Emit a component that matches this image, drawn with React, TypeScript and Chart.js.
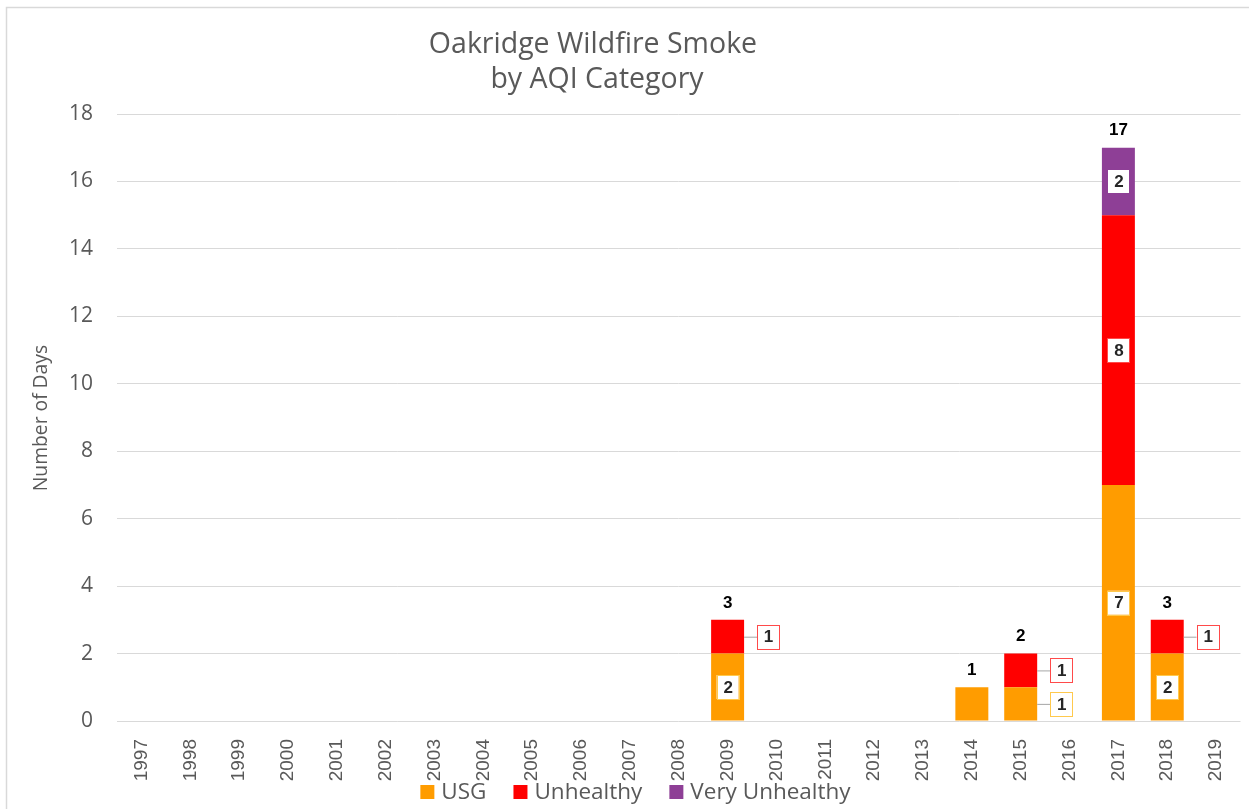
import React, { useEffect, useRef } from "react";
import { Chart, registerables } from "chart.js";
Chart.register(...registerables);

const years = ["1997","1998","1999","2000","2001","2002","2003","2004","2005","2006","2007","2008","2009","2010","2011","2012","2013","2014","2015","2016","2017","2018","2019"];
const usg =           [0,0,0,0,0,0,0,0,0,0,0,0,2,0,0,0,0,1,1,0,7,2,0];
const unhealthy =     [0,0,0,0,0,0,0,0,0,0,0,0,1,0,0,0,0,0,1,0,8,1,0];
const veryUnhealthy = [0,0,0,0,0,0,0,0,0,0,0,0,0,0,0,0,0,0,0,0,2,0,0];
const seriesNames = ["USG", "Unhealthy", "Very Unhealthy"];
const seriesColors = ["#FF9C00", "#FF0000", "#8E3F96"];
const labelBorders = ["#FFC94D", "#FF4A4A", "#8E3F96"];
const yMin = 0;
const yMax = 18;
const yStep = 2;
const chartTitle = ["Oakridge Wildfire Smoke", "by AQI Category"];
const yAxisTitle = "Number of Days";

const W = 1249;
const H = 809;
const GRAY = "#595959";
const SANS = "'Open Sans', 'Noto Sans', sans-serif";
const ARIAL = "'Liberation Sans', Arial, sans-serif";

const overlay = {
  id: "overlay",
  afterDraw(chart: any) {
    const ctx = chart.ctx as CanvasRenderingContext2D;
    ctx.save();
    // outer frame
    ctx.strokeStyle = "#d9d9d9";
    ctx.lineWidth = 1.5;
    ctx.beginPath();
    ctx.moveTo(6.5, H);
    ctx.lineTo(6.5, 7.5);
    ctx.lineTo(W, 7.5);
    ctx.stroke();

    // title
    ctx.fillStyle = GRAY;
    ctx.textAlign = "center";
    ctx.textBaseline = "middle";
    ctx.font = `28.5px ${SANS}`;
    ctx.fillText(chartTitle[0], 593, 45);
    ctx.fillText(chartTitle[1], 597, 80);

    // y axis title
    ctx.save();
    ctx.translate(42, 418);
    ctx.rotate(-Math.PI / 2);
    ctx.font = `19.3px ${SANS}`;
    ctx.fillText(yAxisTitle, 0, 0);
    ctx.restore();

    // legend
    ctx.font = `22.5px ${SANS}`;
    ctx.textAlign = "left";
    const box = 14, gapT = 7, gapI = 27;
    const widths = seriesNames.map((n) => box + gapT + ctx.measureText(n).width);
    const total = widths.reduce((a, b) => a + b, 0) + gapI * (seriesNames.length - 1);
    let lx = 635.5 - total / 2;
    const ly = 792;
    seriesNames.forEach((n, i) => {
      ctx.fillStyle = seriesColors[i];
      ctx.fillRect(lx, ly - box / 2, box, box);
      ctx.fillStyle = GRAY;
      ctx.fillText(n, lx + box + gapT, ly + 1);
      lx += widths[i] + gapI;
    });

    // data labels
    const nCat = years.length;
    const nSets = chart.data.datasets.length;
    ctx.textAlign = "center";
    ctx.textBaseline = "middle";
    for (let j = 0; j < nCat; j++) {
      let count = 0;
      let sum = 0;
      let topY = Infinity;
      let cx = 0;
      for (let i = 0; i < nSets; i++) {
        const v = chart.data.datasets[i].data[j] as number;
        if (v > 0) {
          count++;
          sum += v;
          const el = chart.getDatasetMeta(i).data[j] as any;
          topY = Math.min(topY, el.y);
          cx = el.x;
        }
      }
      if (count === 0) continue;
      // totals
      ctx.font = `bold 17px ${ARIAL}`;
      ctx.fillStyle = "#000000";
      ctx.fillText(String(sum), cx, topY - 17);
      if (count < 2) continue;
      for (let i = 0; i < nSets; i++) {
        const v = chart.data.datasets[i].data[j] as number;
        if (!(v > 0)) continue;
        const el = chart.getDatasetMeta(i).data[j] as any;
        const cy = (el.y + el.base) / 2;
        const half = el.width / 2;
        const bw = 22, bh = 24;
        let bx: number;
        if (Math.abs(el.base - el.y) < 45) {
          // callout to the right
          const x0 = el.x + half;
          bx = x0 + 13;
          ctx.strokeStyle = "#a6a6a6";
          ctx.lineWidth = 1;
          ctx.beginPath();
          ctx.moveTo(x0, cy + 0.5);
          ctx.lineTo(bx, cy + 0.5);
          ctx.stroke();
        } else {
          bx = el.x - bw / 2;
        }
        ctx.fillStyle = "#ffffff";
        ctx.fillRect(bx, cy - bh / 2, bw, bh);
        ctx.strokeStyle = labelBorders[i];
        ctx.lineWidth = 1;
        ctx.strokeRect(Math.round(bx) + 0.5, Math.round(cy - bh / 2) + 0.5, bw, bh);
        ctx.fillStyle = "#262626";
        ctx.font = `bold 17px ${ARIAL}`;
        ctx.fillText(String(v), bx + bw / 2 + 0.5, cy + 1);
      }
    }
    ctx.restore();
  },
};

export default function App() {
  const ref = useRef<HTMLCanvasElement>(null);
  useEffect(() => {
    if (!ref.current) return;
    const chart = new Chart(ref.current, {
      type: "bar",
      data: {
        labels: years,
        datasets: [usg, unhealthy, veryUnhealthy].map((d, i) => ({
          label: seriesNames[i],
          data: d,
          backgroundColor: seriesColors[i],
          borderWidth: 0,
          categoryPercentage: 1,
          barPercentage: 0.675,
        })),
      },
      options: {
        responsive: false,
        animation: false,
        layout: { padding: { top: 114, right: 5, left: 0, bottom: 0 } },
        plugins: { legend: { display: false }, title: { display: false }, tooltip: { enabled: false } },
        scales: {
          x: {
            stacked: true,
            grid: { display: false },
            border: { display: false },
            ticks: {
              color: GRAY,
              font: { family: ARIAL, size: 19 },
              minRotation: 90,
              maxRotation: 90,
              autoSkip: false,
              padding: 10,
            },
            afterFit(s: any) {
              s.height = 88;
            },
          },
          y: {
            stacked: true,
            min: yMin,
            max: yMax,
            ticks: { stepSize: yStep, color: GRAY, font: { family: SANS, size: 21 }, padding: 24 },
            grid: { color: "#d9d9d9", drawTicks: false, lineWidth: 1 },
            border: { display: false },
            afterFit(s: any) {
              s.width = 117;
            },
          },
        },
      },
      plugins: [overlay],
    });
    return () => chart.destroy();
  }, []);
  return (
    <div style={{ position: "fixed", left: 0, top: 0, width: W, height: H, background: "#fff" }}>
      <canvas ref={ref} width={W} height={H} style={{ width: W, height: H, display: "block" }} />
    </div>
  );
}
